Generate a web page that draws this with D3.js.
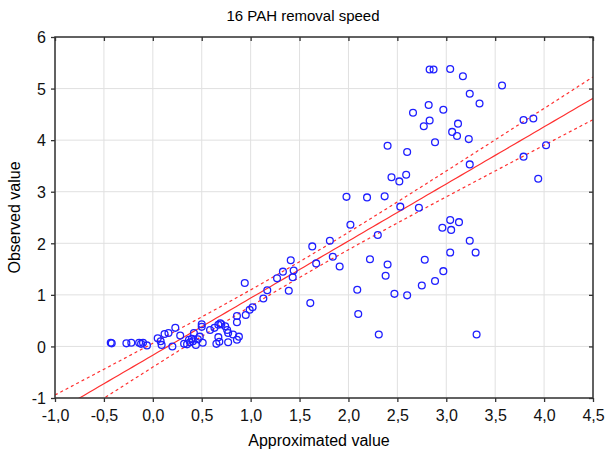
<!DOCTYPE html>
<html lang="en">
<head>
<meta charset="UTF-8">
<title>16 PAH removal speed</title>
<script src="https://d3js.org/d3.v7.min.js"></script>
<style>
    body { margin: 0; background: #fff; font-family: Arial, "Liberation Sans", sans-serif; }
    .grid line { stroke: #e0e0e0; stroke-width: 1; }
    .tick text { font-size: 16px; fill: #111; font-family: Arial, "Liberation Sans", sans-serif; }
    .frame { fill: none; stroke: #333; stroke-width: 1.5; }
    .dot { fill: none; stroke: #1f1fff; stroke-width: 1.3; }
    .fit { fill: none; stroke: #ff3030; stroke-width: 1.2; }
</style>
</head>
<body>
<div id="chart"></div>
<script>
// approximated (x) and observed (y) values
const approx = [
    -0.43, -0.42, -0.27, -0.22, -0.14, -0.12, -0.10, -0.06, 0.05, 0.08, 0.09, 0.12, 0.16, 0.20,
    0.23, 0.28, 0.32, 0.35, 0.37, 0.38, 0.40, 0.41, 0.42, 0.44, 0.46, 0.48, 0.50, 0.50, 0.51,
    0.585, 0.63, 0.65, 0.67, 0.69, 0.70, 0.67, 0.68, 0.74, 0.76, 0.77, 0.77, 0.82, 0.86, 0.86,
    0.86, 0.88, 0.95, 0.99, 1.02, 1.13, 1.17, 0.94, 1.39, 1.27, 1.43, 1.33, 1.44, 1.41, 1.61,
    1.63, 1.67, 1.81, 1.84, 1.91, 1.98, 2.02, 2.10, 2.09, 2.19, 2.22, 2.30, 2.31, 2.37, 2.38,
    2.40, 2.40, 2.44, 2.47, 2.52, 2.53, 2.59, 2.60, 2.60, 2.66, 2.72, 2.75, 2.77, 2.78, 2.82,
    2.83, 2.83, 2.87, 2.885, 2.885, 2.96, 2.97, 2.97, 3.04, 3.04, 3.04, 3.05, 3.06, 3.11, 3.12,
    3.13, 3.17, 3.23, 3.24, 3.24, 3.24, 3.30, 3.31, 3.34, 3.57, 3.79, 3.79, 3.89, 3.94, 4.02
];
const observed = [
    0.07, 0.06, 0.06, 0.07, 0.07, 0.05, 0.07, 0.02, 0.16, 0.10, 0.03, 0.24, 0.26, 0.00,
    0.36, 0.21, 0.05, 0.04, 0.13, 0.08, 0.15, 0.10, 0.26, 0.03, 0.14, 0.19, 0.43, 0.38, 0.07,
    0.32, 0.36, 0.05, 0.42, 0.45, 0.43, 0.18, 0.09, 0.39, 0.32, 0.26, 0.08, 0.23, 0.59, 0.47,
    0.13, 0.19, 0.61, 0.71, 0.76, 0.93, 1.09, 1.23, 1.08, 1.32, 1.34, 1.45, 1.47, 1.67, 0.84,
    1.94, 1.61, 2.05, 1.74, 1.55, 2.90, 2.36, 0.63, 1.10, 2.89, 1.69, 2.16, 0.23, 2.91, 1.37,
    1.59, 3.89, 3.28, 1.02, 3.20, 2.71, 3.33, 3.77, 0.99, 4.53, 2.69, 1.18, 4.27, 1.68, 4.68,
    4.38, 5.37, 5.37, 3.96, 1.27, 2.30, 1.46, 4.59, 5.38, 2.45, 1.82, 2.26, 4.16, 4.08, 4.32,
    2.41, 5.24, 4.02, 4.90, 3.53, 2.05, 1.82, 0.23, 4.71, 5.06, 4.39, 3.68, 4.42, 3.25, 3.90
];

// fitted line and 95% band
const fitIntercept = -0.17;
const fitSlope = 1.107;
const bandCenter = 1.4;
const bandA = 0.023;
const bandB = 0.0155;

const xTicks = [-1.0, -0.5, 0.0, 0.5, 1.0, 1.5, 2.0, 2.5, 3.0, 3.5, 4.0, 4.5];
const yTicks = [-1, 0, 1, 2, 3, 4, 5, 6];

const W = 606, H = 452;
const margin = { top: 37, right: 13, bottom: 54, left: 55 };
const width = W - margin.left - margin.right;
const height = H - margin.top - margin.bottom;

const root = d3.select("#chart").append("svg")
    .attr("width", W)
    .attr("height", H);

const svg = root.append("g")
    .attr("transform", `translate(${margin.left},${margin.top})`);

const x = d3.scaleLinear().domain([-1, 4.5]).range([0, width]);
const y = d3.scaleLinear().domain([-1, 6]).range([height, 0]);

const fmt = d => d3.format(".1f")(d).replace(".", ",").replace("−", "-");

// grid
svg.append("g").attr("class", "grid")
    .selectAll("line").data(xTicks).enter().append("line")
    .attr("x1", d => x(d)).attr("x2", d => x(d))
    .attr("y1", 0).attr("y2", height);
svg.append("g").attr("class", "grid")
    .selectAll("line").data(yTicks).enter().append("line")
    .attr("x1", 0).attr("x2", width)
    .attr("y1", d => y(d)).attr("y2", d => y(d));

// axes
const xAxis = svg.append("g")
    .attr("transform", `translate(0,${height})`)
    .call(d3.axisBottom(x).tickValues(xTicks).tickFormat(fmt).tickSizeInner(4).tickSizeOuter(0).tickPadding(8));
const yAxis = svg.append("g")
    .call(d3.axisLeft(y).tickValues(yTicks).tickFormat(d => String(d)).tickSizeInner(4).tickSizeOuter(0).tickPadding(5));
svg.append("g")
    .call(d3.axisTop(x).tickValues(xTicks).tickFormat("").tickSizeInner(-4).tickSizeOuter(0));
svg.append("g")
    .attr("transform", `translate(${width},0)`)
    .call(d3.axisRight(y).tickValues(yTicks).tickFormat("").tickSizeInner(-4).tickSizeOuter(0));
svg.selectAll(".domain").remove();
svg.selectAll(".tick line").attr("stroke", "#333").attr("stroke-width", 1.3);
yAxis.selectAll(".tick text").attr("dy", "0.36em");

// fit line + band
svg.append("clipPath").attr("id", "clip")
    .append("rect").attr("width", width).attr("height", height);
const xs = d3.range(-1, 4.5001, 0.05);
const fitY = v => fitIntercept + fitSlope * v;
const half = v => Math.sqrt(bandA + bandB * (v - bandCenter) * (v - bandCenter));
const line = d3.line().x(d => x(d[0])).y(d => y(d[1]));
const lines = svg.append("g").attr("clip-path", "url(#clip)");
lines.append("path").attr("class", "fit")
    .attr("d", line(xs.map(v => [v, fitY(v)])));
lines.append("path").attr("class", "fit").attr("stroke-dasharray", "3,3")
    .attr("d", line(xs.map(v => [v, fitY(v) + half(v)])));
lines.append("path").attr("class", "fit").attr("stroke-dasharray", "3,3")
    .attr("d", line(xs.map(v => [v, fitY(v) - half(v)])));

// points
svg.append("g").selectAll("circle")
    .data(approx.map((v, i) => [v, observed[i]]))
    .enter().append("circle")
    .attr("class", "dot")
    .attr("cx", d => x(d[0]))
    .attr("cy", d => y(d[1]))
    .attr("r", 3.4);

// frame
svg.append("rect").attr("class", "frame")
    .attr("width", width).attr("height", height);

// titles
root.append("text")
    .attr("x", 303).attr("y", 21)
    .attr("text-anchor", "middle")
    .style("font-size", "15px")
    .text("16 PAH removal speed");
root.append("text")
    .attr("x", 319).attr("y", 446)
    .attr("text-anchor", "middle")
    .style("font-size", "16px")
    .text("Approximated value");
root.append("text")
    .attr("transform", `translate(20,${margin.top + height / 2}) rotate(-90)`)
    .attr("text-anchor", "middle")
    .style("font-size", "16px")
    .text("Observed value");
</script>
</body>
</html>
